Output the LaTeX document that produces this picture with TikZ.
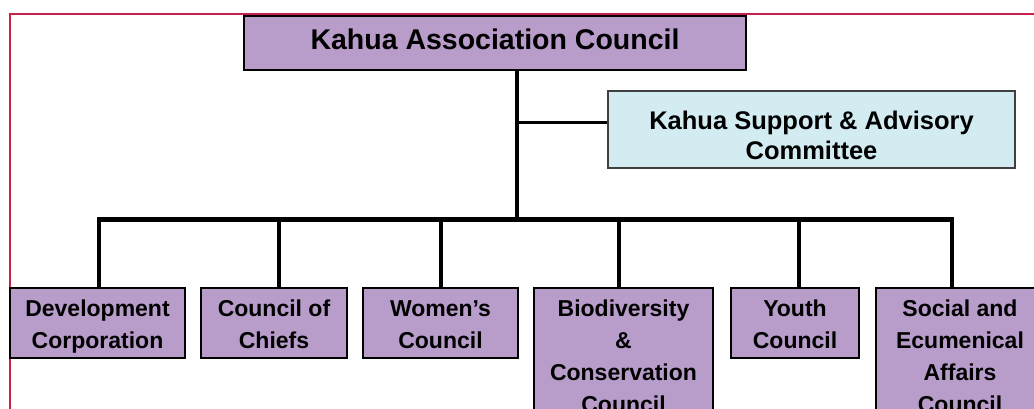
\documentclass[tikz,border=0pt]{standalone}
\usepackage{fontspec}
\setmainfont{Liberation Sans}
\definecolor{kapurple}{RGB}{184,156,201}
\definecolor{kablue}{RGB}{210,236,242}
\definecolor{kared}{RGB}{200,32,72}
\newcommand{\uppad}[1]{\rule{0pt}{#1}}
\newcommand{\lowpad}{\rule[-8pt]{0pt}{8pt}}

\begin{document}
\begin{tikzpicture}[x=1pt,y=-1pt,
		box/.style={draw=black,line width=1.8pt,fill=kapurple,align=center,inner sep=0pt},
		unit/.style={box,anchor=north,minimum height=70pt,font=\bfseries\fontsize{23}{32}\selectfont},
		link/.style={line width=3.5pt}]
		\useasboundingbox (0,0) rectangle (1034,409);
		\clip (0,0) rectangle (1034,409);
		\draw[kared,line width=2.4pt] (10,14) rectangle (1060,440);
		\node[box,minimum width=502pt,minimum height=54pt,text depth=7pt,font=\bfseries\fontsize{28.5}{34}\selectfont] (kac) at (495,43) {Kahua Association Council};
		\node[box,fill=kablue,draw=black!75,line width=1.5pt,minimum width=407pt,minimum height=77pt,font=\bfseries\fontsize{25.5}{30}\selectfont] (ksac) at (811.5,129.5) {\uppad{30pt}Kahua Support \& Advisory\\Committee};
		\node[unit,minimum width=175pt] (dev) at (97.5,287) {\uppad{28pt}Development\\Corporation\lowpad};
		\node[unit,minimum width=146pt] (chf) at (274,287) {\uppad{28pt}Council of\\Chiefs\lowpad};
		\node[unit,minimum width=155pt] (wom) at (440.5,287) {\uppad{28pt}Women’s\\Council\lowpad};
		\node[unit,minimum width=179pt,minimum height=134pt] (bio) at (623.5,287) {\uppad{28pt}Biodiversity\\\&\\Conservation\\Council\lowpad};
		\node[unit,minimum width=128pt] (yth) at (795,287) {\uppad{28pt}Youth\\Council\lowpad};
		\node[unit,minimum width=168pt,minimum height=134pt] (soc) at (960,287) {\uppad{28pt}Social and\\Ecumenical\\Affairs\\Council\lowpad};
		\coordinate (hub) at (517,219);
		\coordinate (adv) at (517,123);
		\coordinate (b1) at (99,219);
		\coordinate (b2) at (279,219);
		\coordinate (b3) at (441,219);
		\coordinate (b4) at (619,219);
		\coordinate (b5) at (799,219);
		\coordinate (b6) at (952,219);
		\draw[link,line width=4pt] (hub |- kac.south) -- (hub);
		\draw[link,line width=3pt] (adv) -- (adv -| ksac.west);
		\draw[link] (b1 |- dev.north) -- (b1) -- (b6) -- (b6 |- soc.north);
		\draw[link,line width=5pt] (b1) -- (b6);
		\draw[link] (b2) -- (b2 |- chf.north);
		\draw[link] (b3) -- (b3 |- wom.north);
		\draw[link] (b4) -- (b4 |- bio.north);
		\draw[link] (b5) -- (b5 |- yth.north);
	\end{tikzpicture}
\end{document}
